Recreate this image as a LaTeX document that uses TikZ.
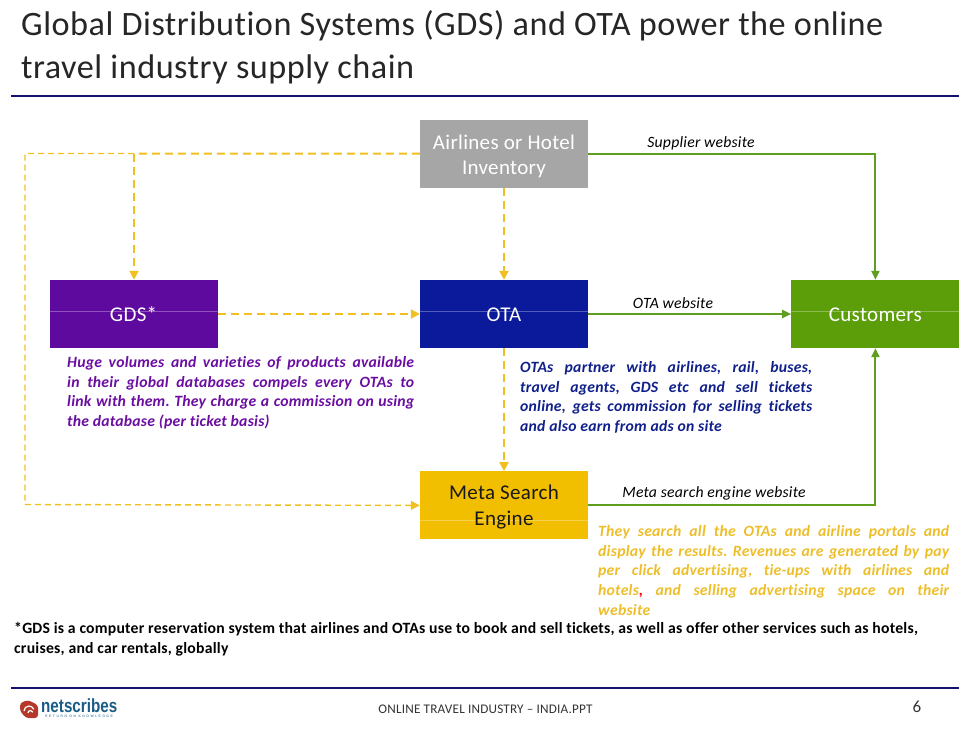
\documentclass[tikz,border=0pt]{standalone}
\usepackage{fontspec}
\setmainfont[Ligatures=NoCommon, LetterSpace=1.5]{Carlito}
\newfontfamily\logofont{Liberation Sans}
\usetikzlibrary{positioning, arrows.meta}
\definecolor{Navy}{HTML}{14146E}
\definecolor{BoxGray}{HTML}{A6A6A6}
\definecolor{BoxPurple}{HTML}{5F0A9E}
\definecolor{BoxBlue}{HTML}{0A1A9A}
\definecolor{BoxGreen}{HTML}{5B9E0A}
\definecolor{BoxYellow}{HTML}{F2BE00}
\definecolor{LineGreen}{HTML}{5F9E1E}
\definecolor{LineYellow}{HTML}{F0C020}
\definecolor{TextPurple}{HTML}{6A0DA0}
\definecolor{TextBlue}{HTML}{10208A}
\definecolor{TextYellow}{HTML}{EDBE2A}
\definecolor{LogoRed}{HTML}{B5392B}
\definecolor{LogoBlue}{HTML}{1A5C85}
\newcommand\Lift[1]{\rule{0pt}{#1}}
\frenchspacing

\begin{document}
\begin{tikzpicture}[x=1pt, y=-1pt,
        box/.style = {minimum width=168pt, minimum height=68pt, inner sep=2pt, text=white, align=center, font=\fontsize{21}{25}\selectfont},
        seam/.style = {path picture={\draw [white, opacity=0.3, line width=0.6pt] ([yshift=#1]path picture bounding box.west) -- ([yshift=#1]path picture bounding box.east);}},
        greenline/.style = {draw=LineGreen, line width=2pt, -{Triangle[length=9pt, width=8pt]}},
        dashline/.style = {draw=LineYellow, line width=2pt, dash pattern=on 8pt off 5pt, -{Triangle[length=9pt, width=9pt]}},
        thinline/.style = {draw=LineYellow, line width=1.4pt, dash pattern=on 6pt off 4pt, -{Triangle[length=9pt, width=9pt]}},
        weblabel/.style = {font=\fontsize{15.7}{18}\selectfont\itshape, text=black, inner sep=0pt},
        note/.style = {font=\fontsize{15.7}{19.6}\selectfont\bfseries\itshape, align=justify, inner sep=0pt, anchor=north west},
        rule/.style = {draw=Navy, line width=2pt}]
                \useasboundingbox (0,0) rectangle (971,728);
                % title
                \node [anchor=north west, inner sep=0pt, align=left, font=\fontsize{34.2}{43}\selectfont, text=black!85] (title) at (21,10.5) {Global Distribution Systems (GDS) and OTA power the online\\travel industry supply chain};
                \coordinate (r1a) at (11,96);
                \coordinate (r1b) at (959,96);
                \draw [rule] (r1a) -- (r1b);
                % boxes
                \node [box, fill=BoxBlue, seam=3pt] (ota) at (504,314) {\Lift{15.5pt}OTA};
                \node [box, fill=BoxGray, above=92pt of ota] (inv) {\Lift{20pt}Airlines or Hotel\\Inventory};
                \node [box, fill=BoxYellow, text=black!90, seam=-14.5pt, below=123pt of ota] (meta) {\Lift{18pt}Meta Search\hspace{4pt}\\[1pt]Engine\hspace{4pt}};
                \node [box, fill=BoxPurple, seam=3pt, left=202pt of ota] (gds) {\Lift{15.5pt}GDS*};
                \node [box, fill=BoxGreen, seam=3pt, right=203pt of ota] (cust) {\Lift{15.5pt}Customers};
                % yellow dashed links
                \coordinate (c1) at (134,153.5);
                \coordinate (c2) at (25,153.5);
                \coordinate (c3) at (25,504.5);
                \draw [dashline, -] (inv.west) -- (c1);
                \draw [dashline] (c1) -- (c1 |- gds.north);
                \draw [thinline] (c1) -- (c2) -- (c3) -- (meta.west);
                \draw [dashline] (gds) -- (ota);
                \draw [dashline] (inv) -- (ota);
                \draw [dashline] (ota) -- (meta);
                % green links
                \draw [greenline] (inv.east) -| (cust.north);
                \draw [greenline] (ota) -- (cust);
                \draw [greenline] (meta.east) -| (cust.south);
                \node [weblabel] (l1) at (701,143.5) {Supplier website};
                \node [weblabel] (l2) at (673,303) {OTA website};
                \node [weblabel] (l3) at (714,493) {Meta search engine website};
                % notes
                \node [note, text=TextPurple, text width=347pt] (n1) at (67,356.5) {Huge volumes and varieties of products available\linebreak in their global databases compels every OTAs to\linebreak link with them. They charge a commission on using\linebreak the database (per ticket basis)};
                \node [note, text=TextBlue, text width=292pt] (n2) at (520,361.5) {OTAs partner with airlines, rail, buses,\linebreak travel agents, GDS etc and sell tickets\linebreak online, gets commission for selling tickets\linebreak and also earn from ads on site};
                \node [note, text=TextYellow, text width=351pt] (n3) at (598,525.5) {They search all the OTAs and airline portals and\linebreak display the results. Revenues are generated by pay\linebreak per click advertising, tie-ups with airlines and\linebreak hotels{\color{red},} and selling advertising space on their\linebreak website};
                \node [anchor=north west, inner sep=0pt, align=left, font=\fontsize{15.7}{19.5}\selectfont\bfseries] (foot) at (14,622.5) {*GDS is a computer reservation system that airlines and OTAs use to book and sell tickets, as well as offer other services such as hotels,\\cruises, and car rentals, globally};
                % footer
                \coordinate (r2a) at (11,688);
                \coordinate (r2b) at (959,688);
                \draw [rule] (r2a) -- (r2b);
                \fill [LogoRed, rounded corners=3pt] (20,703) -- (28,700) -- (38,705) -- (38,718) -- (26,718) -- (20,711) -- cycle;
                \draw [white, line width=1.2pt] (24,711) arc (180:20:5pt);
                \draw [white, line width=1.2pt] (28,713) arc (180:20:2.5pt);
                \node [anchor=west, inner sep=0pt, text=LogoBlue, font=\logofont\bfseries\fontsize{19}{19}\selectfont] (logo) at (41,706) {\scalebox{0.8}[1]{netscribes}};
                \node [anchor=west, inner sep=0pt, text=LogoBlue, font=\logofont\fontsize{3.4}{4}\selectfont\addfontfeatures{LetterSpace=45}] (tag) at (45,716.5) {RETURN ON KNOWLEDGE};
                \node [anchor=center, inner sep=0pt, font=\fontsize{13.2}{15}\selectfont, text=black!80] (doc) at (485.5,709) {ONLINE TRAVEL INDUSTRY – INDIA.PPT};
                \node [anchor=center, inner sep=0pt, font=\fontsize{17}{20}\selectfont, text=black!80] (pg) at (917,707) {6};
            \end{tikzpicture}
\end{document}
